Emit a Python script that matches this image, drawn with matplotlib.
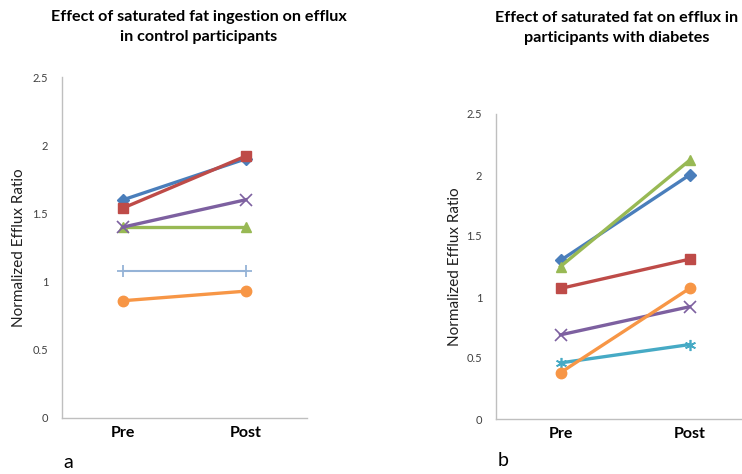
import matplotlib
matplotlib.use("Agg")
import matplotlib.pyplot as plt

plt.rcParams['font.family'] = ['Lato', 'DejaVu Sans']

categories = ["Pre", "Post"]

# Panel a: control participants
ctrl_blue = [1.60, 1.90]
ctrl_red = [1.54, 1.92]
ctrl_purple = [1.40, 1.60]
ctrl_green = [1.40, 1.40]
ctrl_lightblue = [1.08, 1.08]
ctrl_orange = [0.86, 0.93]

# Panel b: participants with diabetes
diab_blue = [1.30, 2.00]
diab_green = [1.25, 2.12]
diab_red = [1.07, 1.31]
diab_orange = [0.38, 1.07]
diab_purple = [0.69, 0.92]
diab_cyan = [0.46, 0.61]

yticks = [0, 0.5, 1, 1.5, 2, 2.5]
ytick_labels = ["0", "0.5", "1", "1.5", "2", "2.5"]

title_a = "Effect of saturated fat ingestion on efflux\nin control participants"
title_b = "Effect of saturated fat on efflux in\nparticipants with diabetes"
ylabel = "Normalized Efflux Ratio"

BLUE = "#4A7EBB"
RED = "#BE4B48"
GREEN = "#98B954"
PURPLE = "#7D60A0"
CYAN = "#46AAC5"
ORANGE = "#F79646"
LIGHTBLUE = "#95B3D7"

fig = plt.figure(figsize=(7.42, 4.74), dpi=100)

ax1 = fig.add_axes([62/742, 56/474, 245/742, 341/474])
ax2 = fig.add_axes([496/742, 55/474, 258/742, 305/474])

xpos = [0.5, 1.5]
lw = 2.4

def style(ax):
    ax.set_xlim(0, 2)
    ax.set_ylim(0, 2.5)
    ax.set_yticks(yticks)
    ax.set_yticklabels(ytick_labels, fontsize=8, color="#404040")
    ax.set_xticks(xpos)
    ax.set_xticklabels(categories, fontsize=11.5, fontweight="bold", color="black")
    for s in ["top", "right"]:
        ax.spines[s].set_visible(False)
    for s in ["left", "bottom"]:
        ax.spines[s].set_color("#BFBFBF")
        ax.spines[s].set_linewidth(1.0)
    ax.tick_params(axis="both", length=0)
    ax.tick_params(axis="y", pad=10)
    ax.tick_params(axis="x", pad=6)
    ax.set_ylabel(ylabel, fontsize=11, color="#202020")

# Panel a
ax1.plot(xpos, ctrl_lightblue, color=LIGHTBLUE, lw=1.5, marker="+", ms=9, mew=1.3)
ax1.plot(xpos, ctrl_orange, color=ORANGE, lw=lw, marker="o", ms=7.5)
ax1.plot(xpos, ctrl_green, color=GREEN, lw=lw, marker="^", ms=7.5)
ax1.plot(xpos, ctrl_purple, color=PURPLE, lw=lw, marker="x", ms=8, mew=1.2)
ax1.plot(xpos, ctrl_blue, color=BLUE, lw=lw, marker="D", ms=6)
ax1.plot(xpos, ctrl_red, color=RED, lw=lw, marker="s", ms=7.5)
style(ax1)
ax1.yaxis.set_label_coords(-0.145, 0.5)

# Panel b
ax2.plot(xpos, diab_cyan, color=CYAN, lw=lw, marker=(6, 2, 0), ms=8, mew=1.2)
ax2.plot(xpos, diab_purple, color=PURPLE, lw=lw, marker="x", ms=8, mew=1.2)
ax2.plot(xpos, diab_orange, color=ORANGE, lw=lw, marker="o", ms=7.5)
ax2.plot(xpos, diab_red, color=RED, lw=lw, marker="s", ms=7.5)
ax2.plot(xpos, diab_blue, color=BLUE, lw=lw, marker="D", ms=6)
ax2.plot(xpos, diab_green, color=GREEN, lw=lw, marker="^", ms=7.5)
style(ax2)
ax2.yaxis.set_label_coords(-0.13, 0.5)

fig.text(199/742, 1 - 27/474, title_a, ha="center", va="center",
         fontsize=11.6, fontweight="bold", linespacing=1.55)
fig.text(617/742, 1 - 28/474, title_b, ha="center", va="center",
         fontsize=11.6, fontweight="bold", linespacing=1.55)

fig.text(68/742, 1 - 462/474, "a", ha="center", va="center", fontsize=14)
fig.text(503/742, 1 - 461/474, "b", ha="center", va="center", fontsize=14)

fig.savefig("out.png", dpi=100)
